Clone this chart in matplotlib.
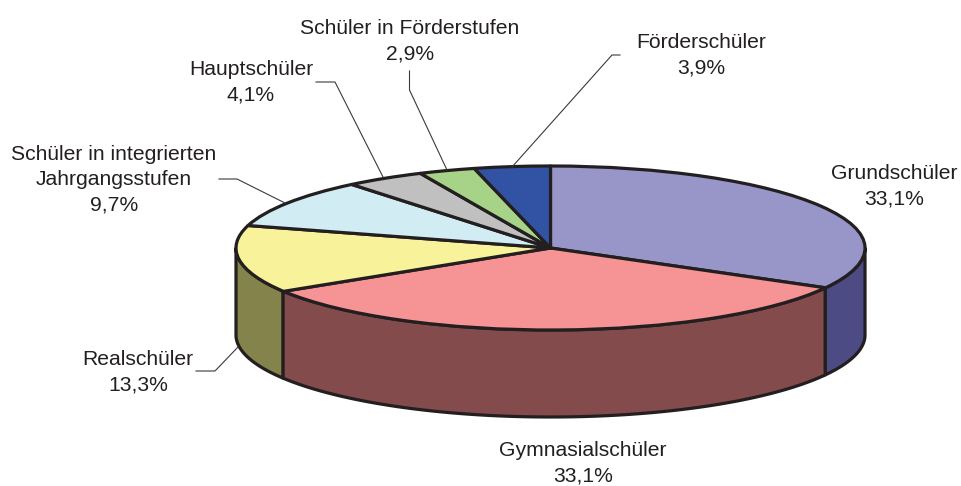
import numpy as np
import matplotlib
matplotlib.use("Agg")
import matplotlib.pyplot as plt
from matplotlib.lines import Line2D
from matplotlib.transforms import Affine2D

plt.rcParams['font.family'] = ['Liberation Sans', 'DejaVu Sans']

categories = ["Grundschüler", "Gymnasialschüler", "Realschüler",
              "Schüler in integrierten\nJahrgangsstufen", "Hauptschüler",
              "Schüler in Förderstufen", "Förderschüler"]
values = [33.1, 33.1, 13.3, 9.7, 4.1, 2.9, 3.9]
top_colors = ["#9896c9", "#f69394", "#f8f39a", "#d2ecf4", "#c0c0c0", "#a6d388", "#3253a4"]
side_colors = ["#4d4b84", "#834b4b", "#83834b", "#6e7c80", "#606060", "#536a44", "#192a52"]
label_xy = [(894, 186), (583, 463), (138, 372), (114, 179.5), (251, 82), (410, 41), (701, 55)]
leaders = [None, None,
           [(196, 371), (215, 371), (238, 347)],
           [(219, 179), (237, 179), (285, 203)],
           [(316, 82), (335, 82), (383, 177)],
           [(409.5, 71), (409.5, 90), (447, 170)],
           [(620, 55), (612, 55), (512, 167)]]

W, H = 961, 486
CX, CY, RX, RY, DEPTH = 550.5, 248, 314.5, 82, 87
INK = "#231f20"
EDGE_LW = 2.3

fig = plt.figure(figsize=(W / 100, H / 100), dpi=100)
ax = fig.add_axes([0, 0, 1, 1])
px = Affine2D().scale(1 / W, -1 / H).translate(0, 1) + fig.transFigure

ax.pie(values, colors=top_colors, startangle=90, counterclock=False, radius=1,
       wedgeprops=dict(edgecolor=INK, linewidth=EDGE_LW, joinstyle='round', zorder=3))
ax.set_aspect('auto')
ax.set_xlim(-CX / RX, (W - CX) / RX)
ax.set_ylim((CY - H) / RY, CY / RY)
ax.set_axis_off()

d = DEPTH / RY
edges = 90 - np.cumsum([0] + values) * 3.6
for i, val in enumerate(values):
    a0, a1 = edges[i + 1], edges[i]
    lo, hi = max(a0, -180), min(a1, 0)
    if hi <= lo:
        continue
    t = np.radians(np.linspace(lo, hi, 120))
    xs = np.cos(t)
    ys = np.sin(t)
    ax.fill(np.r_[xs, xs[::-1]], np.r_[ys, ys[::-1] - d], facecolor=side_colors[i],
            edgecolor=INK, linewidth=EDGE_LW, joinstyle='round', zorder=2)

for i, cat in enumerate(categories):
    x, y = label_xy[i]
    ax.text(x, y, f"{cat}\n{values[i]:.1f}%".replace(".", ","), transform=px,
            ha='center', va='center', ma='center', fontsize=15.2, color=INK, linespacing=1.42)
    if leaders[i]:
        lx, ly = zip(*leaders[i])
        fig.add_artist(Line2D(lx, ly, transform=px, color="#3a3a3a", lw=0.8))

fig.savefig("out.png", dpi=100)
